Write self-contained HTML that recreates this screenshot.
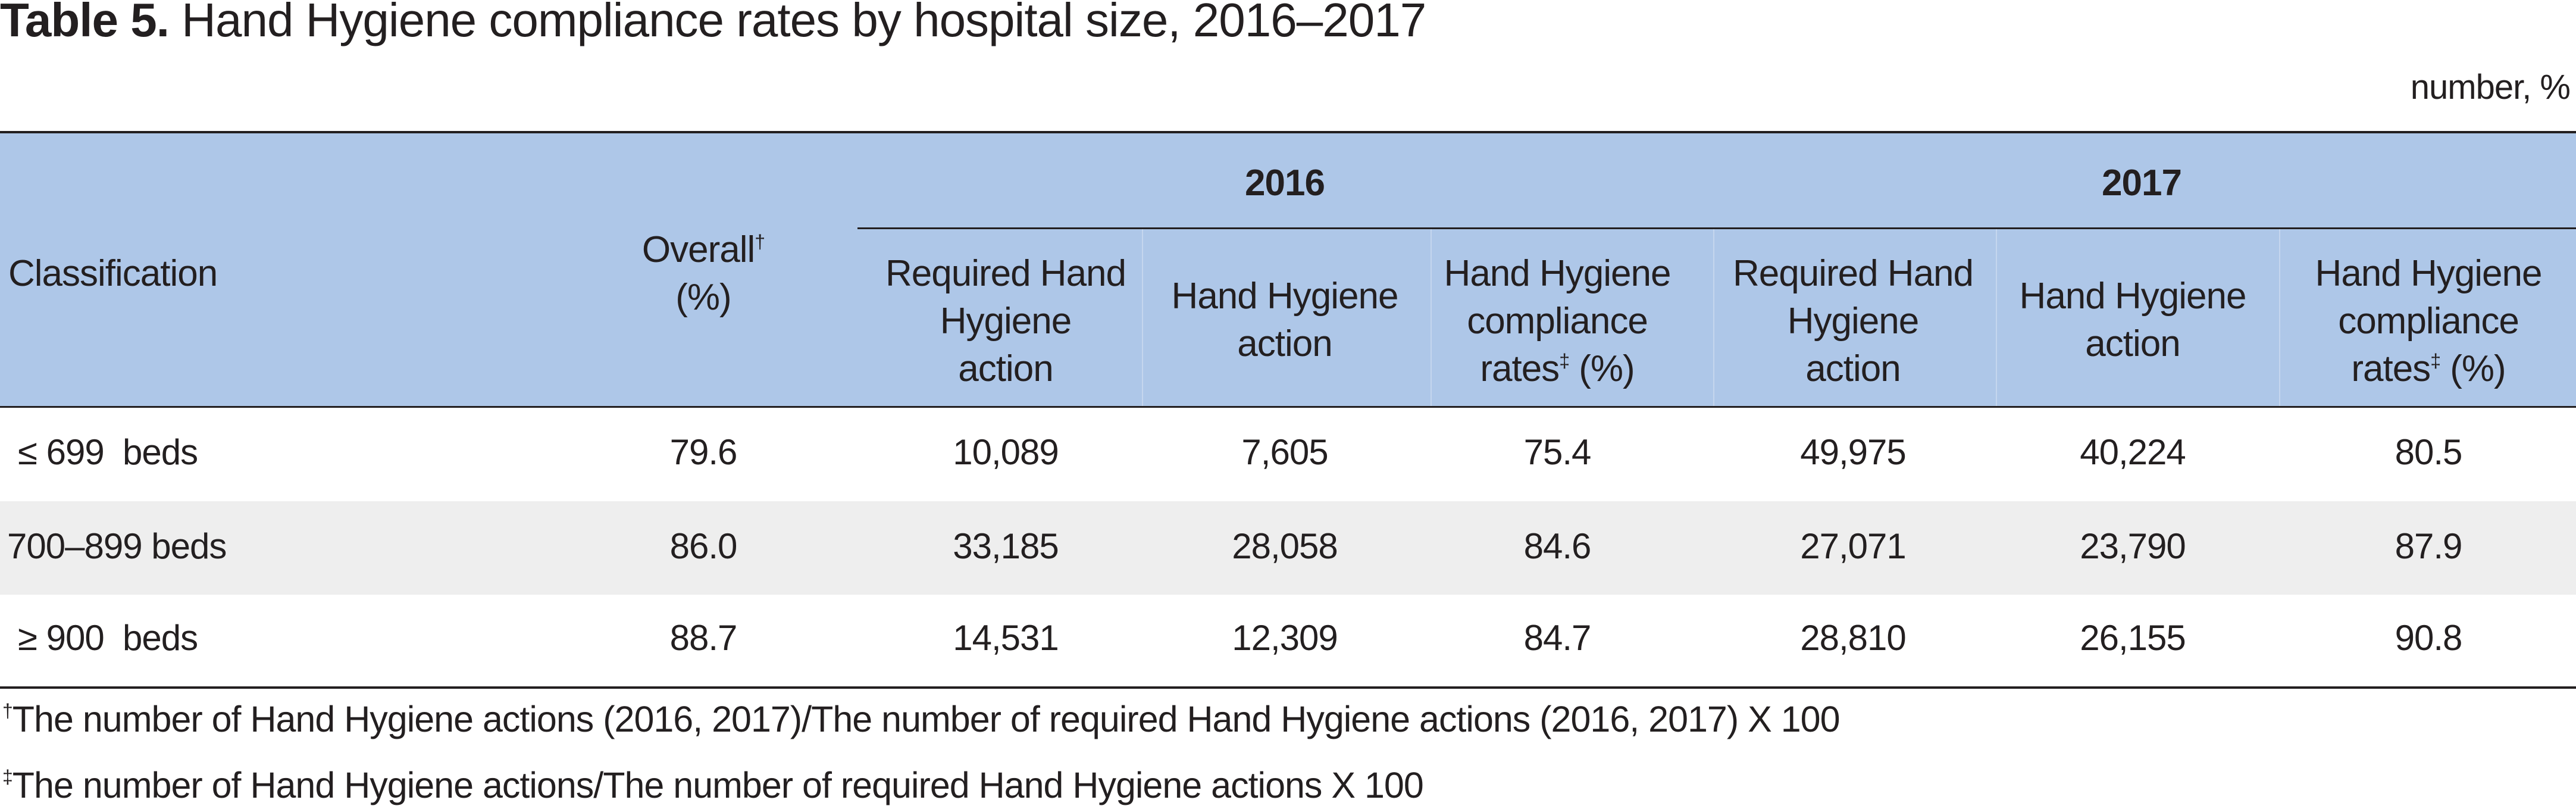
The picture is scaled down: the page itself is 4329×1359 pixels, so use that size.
<!DOCTYPE html>
<html><head><meta charset="utf-8">
<style>
html,body{margin:0;padding:0;background:#fff;}
body{width:4329px;height:1351px;position:relative;overflow:hidden;font-family:"Liberation Sans","Noto Sans CJK KR",sans-serif;color:#231f20;}
.a{position:absolute;white-space:nowrap;line-height:80px;height:80px;}
.c{transform:translateX(-50%);text-align:center;}
.h{font-size:62px;letter-spacing:-1px;}
.d{font-size:60px;letter-spacing:-1px;}
.line{position:absolute;left:0;width:4329px;background:#231f20;}
sup{font-size:32px;vertical-align:top;position:relative;top:-14px;}
.vs{position:absolute;top:383px;height:300px;width:2px;background:#c5d6ee;}
</style></head><body>
<div class="a" style="left:0;top:-6px;font-size:80px;line-height:80px;letter-spacing:-1px;"><b>Table 5.</b> Hand Hygiene compliance rates by hospital size, 2016–2017</div>
<div class="a" style="right:10px;top:107px;font-size:58px;letter-spacing:-1px;">number, %</div>

<div style="position:absolute;left:0;top:222px;width:4329px;height:462px;background:#aec7e8;"></div>
<div class="vs" style="left:1919px"></div>
<div class="vs" style="left:2404px"></div>
<div class="vs" style="left:2879px"></div>
<div class="vs" style="left:3354px"></div>
<div class="vs" style="left:3830px"></div>
<div class="line" style="top:220px;height:4px;"></div>
<div class="line" style="top:382px;height:3px;left:1441px;width:2888px;"></div>
<div class="line" style="top:682px;height:3px;"></div>
<div style="position:absolute;left:0;top:842px;width:4329px;height:157px;background:#eeeeee;"></div>
<div class="line" style="top:1153px;height:4px;"></div>

<div class="a h" style="left:14px;top:420px;">Classification</div>
<div class="a h c" style="left:1182px;top:380px;">Overall<sup>†</sup><br>(%)</div>
<div class="a h c" style="left:2159px;top:268px;font-weight:bold;">2016</div>
<div class="a h c" style="left:3599px;top:268px;font-weight:bold;">2017</div>

<div class="a h c" style="left:1690px;top:420px;">Required Hand<br>Hygiene<br>action</div>
<div class="a h c" style="left:2159px;top:458px;">Hand Hygiene<br>action</div>
<div class="a h c" style="left:2617px;top:420px;">Hand Hygiene<br>compliance<br>rates<sup>‡</sup> (%)</div>
<div class="a h c" style="left:3114px;top:420px;">Required Hand<br>Hygiene<br>action</div>
<div class="a h c" style="left:3584px;top:458px;">Hand Hygiene<br>action</div>
<div class="a h c" style="left:4081px;top:420px;">Hand Hygiene<br>compliance<br>rates<sup>‡</sup> (%)</div>

<div class="a d" style="left:30px;top:720px;">≤ 699&nbsp; beds</div>
<div class="a d c" style="left:1182px;top:720px;">79.6</div>
<div class="a d c" style="left:1690px;top:720px;">10,089</div>
<div class="a d c" style="left:2159px;top:720px;">7,605</div>
<div class="a d c" style="left:2617px;top:720px;">75.4</div>
<div class="a d c" style="left:3114px;top:720px;">49,975</div>
<div class="a d c" style="left:3584px;top:720px;">40,224</div>
<div class="a d c" style="left:4081px;top:720px;">80.5</div>

<div class="a d" style="left:12px;top:878px;">700–899 beds</div>
<div class="a d c" style="left:1182px;top:878px;">86.0</div>
<div class="a d c" style="left:1690px;top:878px;">33,185</div>
<div class="a d c" style="left:2159px;top:878px;">28,058</div>
<div class="a d c" style="left:2617px;top:878px;">84.6</div>
<div class="a d c" style="left:3114px;top:878px;">27,071</div>
<div class="a d c" style="left:3584px;top:878px;">23,790</div>
<div class="a d c" style="left:4081px;top:878px;">87.9</div>

<div class="a d" style="left:30px;top:1032px;">≥ 900&nbsp; beds</div>
<div class="a d c" style="left:1182px;top:1032px;">88.7</div>
<div class="a d c" style="left:1690px;top:1032px;">14,531</div>
<div class="a d c" style="left:2159px;top:1032px;">12,309</div>
<div class="a d c" style="left:2617px;top:1032px;">84.7</div>
<div class="a d c" style="left:3114px;top:1032px;">28,810</div>
<div class="a d c" style="left:3584px;top:1032px;">26,155</div>
<div class="a d c" style="left:4081px;top:1032px;">90.8</div>

<div class="a" style="left:4px;top:1168px;font-size:61px;letter-spacing:-1px;"><sup>†</sup>The number of Hand Hygiene actions (2016, 2017)/The number of required Hand Hygiene actions (2016, 2017) X 100</div>
<div class="a" style="left:4px;top:1279px;font-size:61px;letter-spacing:-1px;"><sup>‡</sup>The number of Hand Hygiene actions/The number of required Hand Hygiene actions X 100</div>
</body></html>
